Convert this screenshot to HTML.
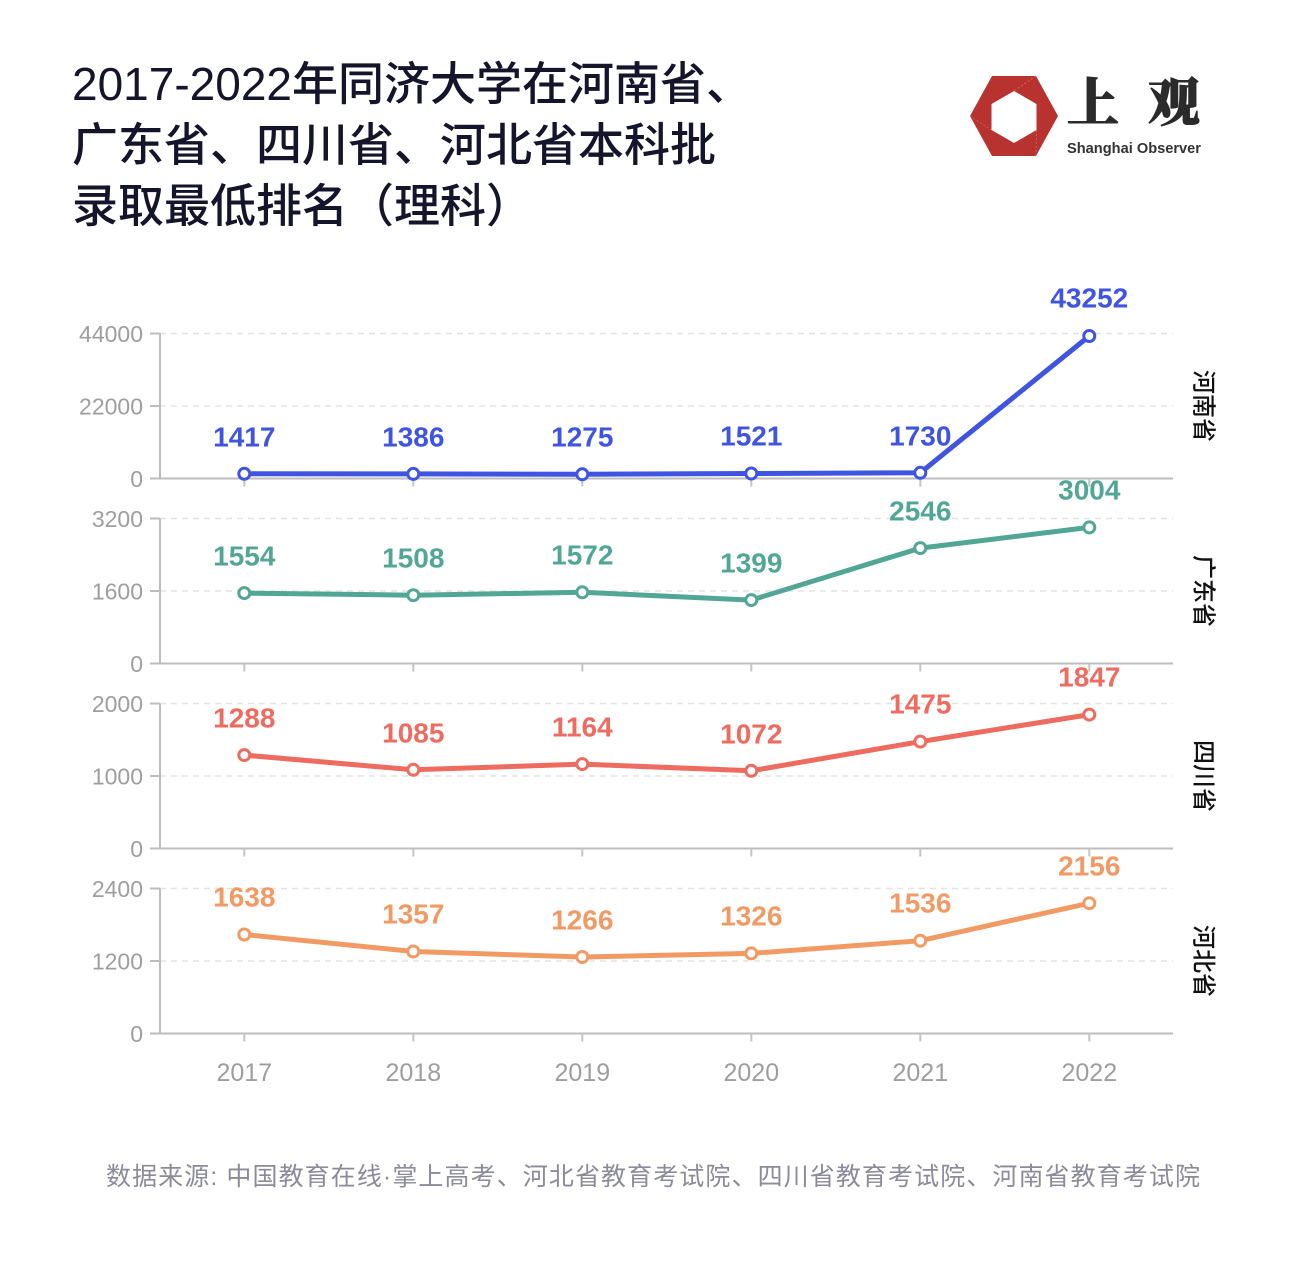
<!DOCTYPE html>
<html>
<head>
<meta charset="utf-8">
<style>
html,body{margin:0;padding:0;background:#fff;}
svg{display:block;}
.t{font-family:"Liberation Sans","Noto Sans CJK SC",sans-serif;}
.c{font-family:"Liberation Sans","Noto Sans CJK SC",sans-serif;}
</style>
</head>
<body>
<svg width="1292" height="1268" viewBox="0 0 1292 1268" xmlns="http://www.w3.org/2000/svg">
<rect width="1292" height="1268" fill="#ffffff"/>

<!-- Title -->
<g class="t" font-size="46" font-weight="500" fill="#14142b">
<text x="72" y="100">2017-2022年同济大学在河南省、</text>
<text x="72" y="161">广东省、四川省、河北省本科批</text>
<text x="72" y="222">录取最低排名（理科）</text>
</g>

<!-- Logo -->
<path d="M992,76 L1036,76 L1058,116 L1036,156 L992,156 L970,116 Z M1014,91 L991.5,104 L991.5,130 L1014,143 L1036.5,130 L1036.5,104 Z" fill="#b8322f" fill-rule="evenodd"/>
<path d="M1036,76 L1014,91 M970,116 L991.5,130 M1036,156 L1036.5,130" stroke="#d46a66" stroke-width="0.8" stroke-dasharray="2,2" fill="none"/>
<text x="1067" y="121" font-family="'Noto Serif CJK SC','Liberation Serif',serif" font-weight="900" font-size="52" fill="#2b2b2b" stroke="#2b2b2b" stroke-width="1" textLength="133" lengthAdjust="spacing">上观</text>
<text x="1067" y="153" font-family="'Liberation Sans',sans-serif" font-weight="bold" font-size="14.5" fill="#333" textLength="134" lengthAdjust="spacingAndGlyphs">Shanghai Observer</text>

<!-- Gridlines -->
<g stroke="#e3e3e3" stroke-width="1.5" stroke-dasharray="6,5">
<line x1="160" y1="333.5" x2="1173" y2="333.5"/>
<line x1="160" y1="406" x2="1173" y2="406"/>
<line x1="160" y1="518.5" x2="1173" y2="518.5"/>
<line x1="160" y1="591" x2="1173" y2="591"/>
<line x1="160" y1="703.5" x2="1173" y2="703.5"/>
<line x1="160" y1="776" x2="1173" y2="776"/>
<line x1="160" y1="888.5" x2="1173" y2="888.5"/>
<line x1="160" y1="961" x2="1173" y2="961"/>
</g>

<!-- Axes -->
<g stroke="#bdbdbd" stroke-width="2" fill="none">
<line x1="160" y1="333.5" x2="160" y2="478.5"/>
<line x1="150" y1="478.5" x2="1173" y2="478.5"/>
<line x1="150" y1="333.5" x2="160" y2="333.5"/>
<line x1="150" y1="406" x2="160" y2="406"/>
<line x1="160" y1="518.5" x2="160" y2="663.5"/>
<line x1="150" y1="663.5" x2="1173" y2="663.5"/>
<line x1="150" y1="518.5" x2="160" y2="518.5"/>
<line x1="150" y1="591" x2="160" y2="591"/>
<line x1="160" y1="703.5" x2="160" y2="848.5"/>
<line x1="150" y1="848.5" x2="1173" y2="848.5"/>
<line x1="150" y1="703.5" x2="160" y2="703.5"/>
<line x1="150" y1="776" x2="160" y2="776"/>
<line x1="160" y1="888.5" x2="160" y2="1033.5"/>
<line x1="150" y1="1033.5" x2="1173" y2="1033.5"/>
<line x1="150" y1="888.5" x2="160" y2="888.5"/>
<line x1="150" y1="961" x2="160" y2="961"/>
</g>
<!-- x ticks -->
<g stroke="#c4c4c4" stroke-width="2">
<path d="M244.3,478.5v8 M413.3,478.5v8 M582.3,478.5v8 M751.3,478.5v8 M920.3,478.5v8 M1089.3,478.5v8"/>
<path d="M244.3,663.5v8 M413.3,663.5v8 M582.3,663.5v8 M751.3,663.5v8 M920.3,663.5v8 M1089.3,663.5v8"/>
<path d="M244.3,848.5v8 M413.3,848.5v8 M582.3,848.5v8 M751.3,848.5v8 M920.3,848.5v8 M1089.3,848.5v8"/>
<path d="M244.3,1033.5v8 M413.3,1033.5v8 M582.3,1033.5v8 M751.3,1033.5v8 M920.3,1033.5v8 M1089.3,1033.5v8"/>
</g>

<!-- Y tick labels -->
<g class="c" font-size="23" fill="#9e9e9e" text-anchor="end">
<text x="143" y="342">44000</text>
<text x="143" y="414.5">22000</text>
<text x="143" y="487">0</text>
<text x="143" y="527">3200</text>
<text x="143" y="599.5">1600</text>
<text x="143" y="672">0</text>
<text x="143" y="712">2000</text>
<text x="143" y="784.5">1000</text>
<text x="143" y="857">0</text>
<text x="143" y="897">2400</text>
<text x="143" y="969.5">1200</text>
<text x="143" y="1042">0</text>
</g>

<!-- X labels -->
<g class="c" font-size="25" fill="#9e9e9e" text-anchor="middle">
<text x="244.3" y="1081">2017</text>
<text x="413.3" y="1081">2018</text>
<text x="582.3" y="1081">2019</text>
<text x="751.3" y="1081">2020</text>
<text x="920.3" y="1081">2021</text>
<text x="1089.3" y="1081">2022</text>
</g>

<!-- Series 1 -->
<g>
<polyline points="244.3,473.8 413.3,473.9 582.3,474.3 751.3,473.5 920.3,472.8 1089.3,336" fill="none" stroke="#3f55e2" stroke-width="5" stroke-linejoin="round"/>
<g fill="#fff" stroke="#3f55e2" stroke-width="3">
<circle cx="244.3" cy="473.8" r="5.5"/><circle cx="413.3" cy="473.9" r="5.5"/><circle cx="582.3" cy="474.3" r="5.5"/><circle cx="751.3" cy="473.5" r="5.5"/><circle cx="920.3" cy="472.8" r="5.5"/><circle cx="1089.3" cy="336" r="5.5"/>
</g>
<g class="c" font-size="28" font-weight="bold" fill="#3f55e2" text-anchor="middle">
<text x="244.3" y="446.5">1417</text><text x="413.3" y="446.5">1386</text><text x="582.3" y="446.5">1275</text><text x="751.3" y="445.5">1521</text><text x="920.3" y="445.5">1730</text><text x="1089.3" y="307.5">43252</text>
</g>
</g>

<!-- Series 2 -->
<g>
<polyline points="244.3,593.1 413.3,595.2 582.3,592.3 751.3,600.1 920.3,548.1 1089.3,527.4" fill="none" stroke="#52a696" stroke-width="5" stroke-linejoin="round"/>
<g fill="#fff" stroke="#52a696" stroke-width="3">
<circle cx="244.3" cy="593.1" r="5.5"/><circle cx="413.3" cy="595.2" r="5.5"/><circle cx="582.3" cy="592.3" r="5.5"/><circle cx="751.3" cy="600.1" r="5.5"/><circle cx="920.3" cy="548.1" r="5.5"/><circle cx="1089.3" cy="527.4" r="5.5"/>
</g>
<g class="c" font-size="28" font-weight="bold" fill="#52a696" text-anchor="middle">
<text x="244.3" y="565.5">1554</text><text x="413.3" y="567.5">1508</text><text x="582.3" y="564.5">1572</text><text x="751.3" y="572.5">1399</text><text x="920.3" y="520.5">2546</text><text x="1089.3" y="499.5">3004</text>
</g>
</g>

<!-- Series 3 -->
<g>
<polyline points="244.3,755.1 413.3,769.8 582.3,764.1 751.3,770.8 920.3,741.6 1089.3,714.6" fill="none" stroke="#ee6b60" stroke-width="5" stroke-linejoin="round"/>
<g fill="#fff" stroke="#ee6b60" stroke-width="3">
<circle cx="244.3" cy="755.1" r="5.5"/><circle cx="413.3" cy="769.8" r="5.5"/><circle cx="582.3" cy="764.1" r="5.5"/><circle cx="751.3" cy="770.8" r="5.5"/><circle cx="920.3" cy="741.6" r="5.5"/><circle cx="1089.3" cy="714.6" r="5.5"/>
</g>
<g class="c" font-size="28" font-weight="bold" fill="#ee6b60" text-anchor="middle">
<text x="244.3" y="727.5">1288</text><text x="413.3" y="742.5">1085</text><text x="582.3" y="736.5">1164</text><text x="751.3" y="743.5">1072</text><text x="920.3" y="713.5">1475</text><text x="1089.3" y="686.5">1847</text>
</g>
</g>

<!-- Series 4 -->
<g>
<polyline points="244.3,934.5 413.3,951.5 582.3,957 751.3,953.4 920.3,940.7 1089.3,903.2" fill="none" stroke="#f29a64" stroke-width="5" stroke-linejoin="round"/>
<g fill="#fff" stroke="#f29a64" stroke-width="3">
<circle cx="244.3" cy="934.5" r="5.5"/><circle cx="413.3" cy="951.5" r="5.5"/><circle cx="582.3" cy="957" r="5.5"/><circle cx="751.3" cy="953.4" r="5.5"/><circle cx="920.3" cy="940.7" r="5.5"/><circle cx="1089.3" cy="903.2" r="5.5"/>
</g>
<g class="c" font-size="28" font-weight="bold" fill="#f29a64" text-anchor="middle">
<text x="244.3" y="906.5">1638</text><text x="413.3" y="923.5">1357</text><text x="582.3" y="929.5">1266</text><text x="751.3" y="925.5">1326</text><text x="920.3" y="912.5">1536</text><text x="1089.3" y="875.5">2156</text>
</g>
</g>

<!-- Side labels -->
<g class="t" font-size="24" font-weight="500" fill="#111" text-anchor="middle">
<text transform="translate(1203,406) rotate(90)" dominant-baseline="central">河南省</text>
<text transform="translate(1203,591) rotate(90)" dominant-baseline="central">广东省</text>
<text transform="translate(1203,776) rotate(90)" dominant-baseline="central">四川省</text>
<text transform="translate(1203,961) rotate(90)" dominant-baseline="central">河北省</text>
</g>

<!-- Source -->
<text class="t" x="106" y="1185" font-size="25" fill="#8b8b99" textLength="1094" lengthAdjust="spacing">数据来源: 中国教育在线·掌上高考、河北省教育考试院、四川省教育考试院、河南省教育考试院</text>
</svg>
</body>
</html>
